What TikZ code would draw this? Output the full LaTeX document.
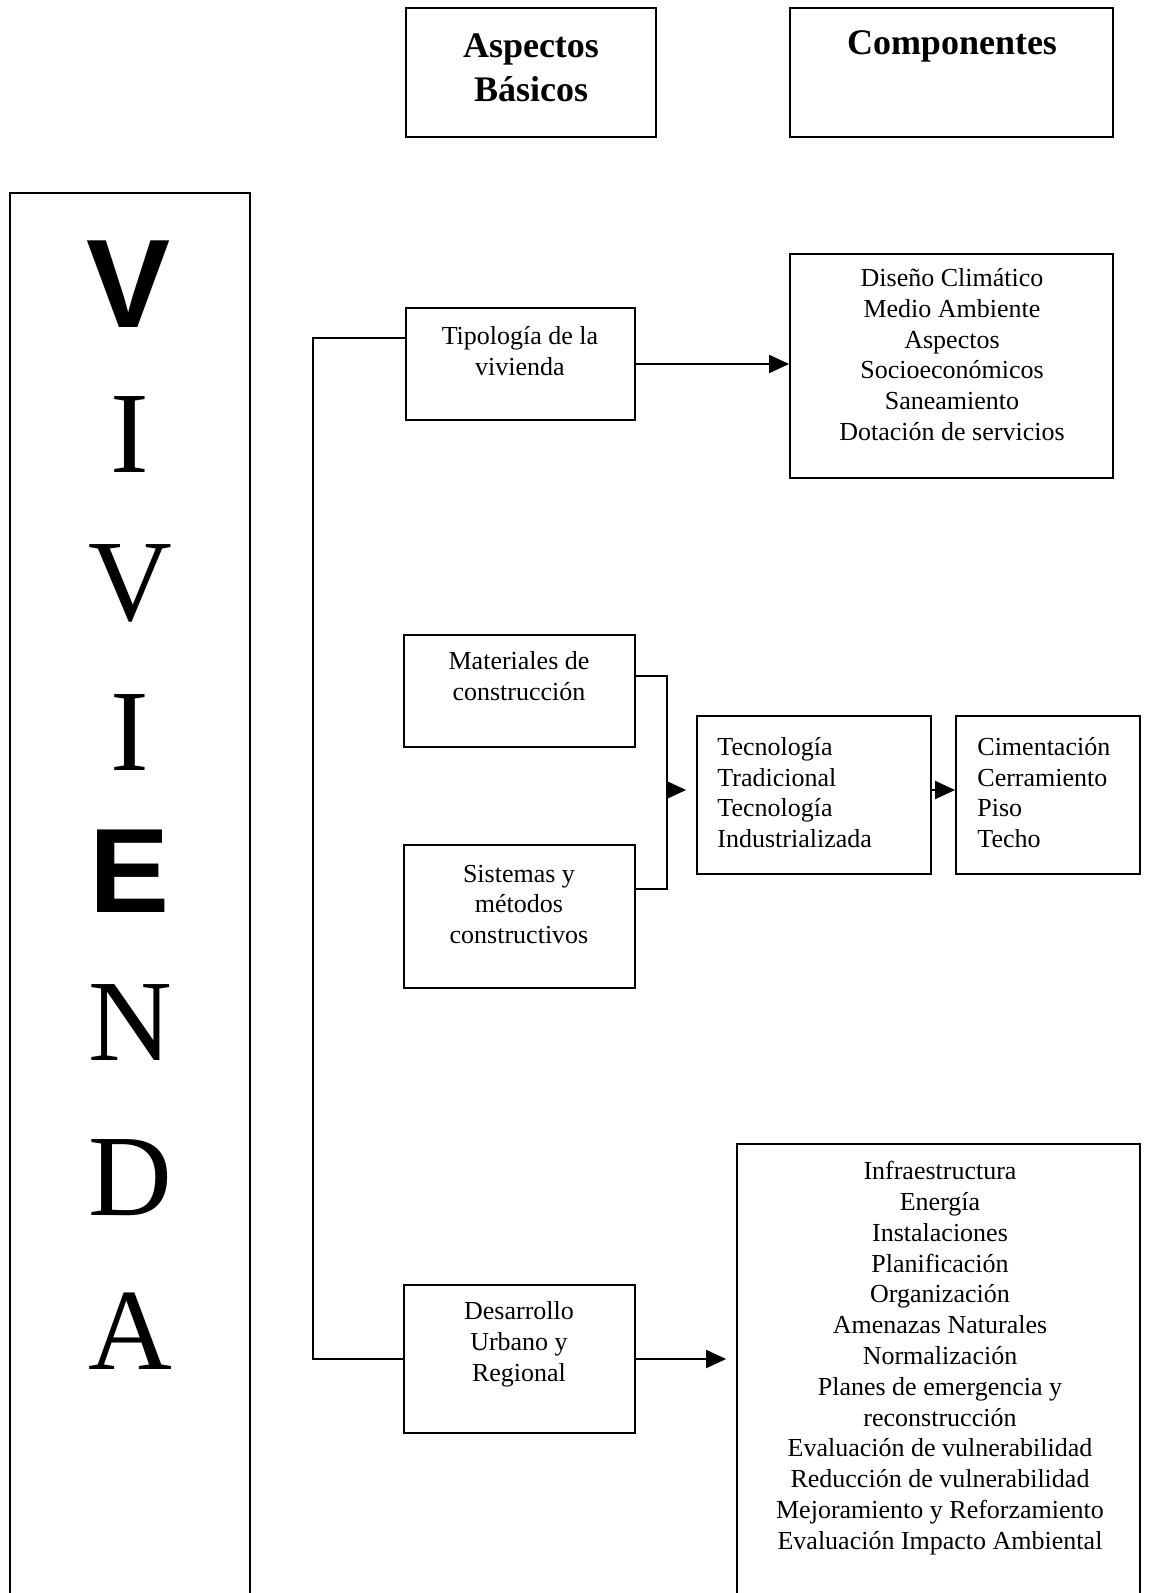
\documentclass[tikz,border=0pt]{standalone}
\usepackage{fontspec}
\setmainfont{Liberation Serif}
\newfontfamily\sansf{Liberation Sans}
\usetikzlibrary{arrows.meta,fit}
\begin{document}
\begin{tikzpicture}[x=0.5pt,y=-0.5pt,
  box/.style={draw, line width=0.9pt, inner sep=0pt, rectangle},
  txt/.style={inner sep=0pt, align=center, font=\fontsize{13}{15.4}\selectfont},
  ltxt/.style={inner sep=0pt, align=left, font=\fontsize{13}{15.2}\selectfont},
  head/.style={inner sep=0pt, align=center, font=\fontsize{18}{22}\selectfont\bfseries},
  let/.style={inner sep=0pt, font=\fontsize{58}{64}\selectfont},
  slet/.style={inner sep=0pt, font=\sansf\fontsize{60}{66}\selectfont\bfseries},
  conn/.style={line width=0.9pt},
  arr/.style={line width=0.9pt, -{Triangle[length=10pt,width=9pt]}}]
\useasboundingbox (0,0) rectangle (1151,1593);
\clip (0,0) rectangle (1151,1593);

% headings
\node[box, fit={(406,8) (656,137)}] (asp) {};
\node[head] (aspT) at (531,67.5) {Aspectos\\Básicos};
\node[box, fit={(790,8) (1113,137)}] (comp) {};
\node[head, anchor=center] (compT) at (952,46) {Componentes};

% VIVIENDA column
\node[box, fit={(10,193) (250,1625)}] (viv) {};
\node[slet, font=\sansf\fontsize{63}{68}\selectfont\bfseries] (l1) at (129,284) {V};
\node[let]  (l2) at (130,435) {I};
\node[let]  (l3) at (130,583) {V};
\node[let]  (l4) at (130,733) {I};
\node[slet] (l5) at (130,871) {E};
\node[let]  (l6) at (130,1023) {N};
\node[let]  (l7) at (130,1178) {D};
\node[let]  (l8) at (130,1331) {A};

% Tipologia
\node[box, fit={(406,308) (635,420)}] (tip) {};
\node[txt] (tipT) at (520,351) {Tipología de la\\vivienda};
\node[box, fit={(790,254) (1113,478)}] (dis) {};
\node[txt] (disT) at (952,354.5) {Diseño Climático\\Medio Ambiente\\Aspectos\\Socioeconómicos\\Saneamiento\\Dotación de servicios};

% Materiales / Sistemas
\node[box, fit={(404,635) (635,747)}] (mat) {};
\node[txt] (matT) at (519,676.5) {Materiales de\\construcción};
\node[box, fit={(404,845) (635,988)}] (sis) {};
\node[txt] (sisT) at (519,904.5) {Sistemas y\\métodos\\constructivos};
\node[box, fit={(697,716) (931,874)}] (tec) {};
\node[ltxt, anchor=west] (tecT) at (717,792.5) {Tecnología\\Tradicional\\Tecnología\\Industrializada};
\node[box, fit={(956,716) (1140,874)}] (cim) {};
\node[ltxt, anchor=west] (cimT) at (977,792.5) {Cimentación\\Cerramiento\\Piso\\Techo};

% Desarrollo
\node[box, fit={(404,1285) (635,1433)}] (des) {};
\node[txt] (desT) at (519,1344) {Desarrollo\\Urbano y\\Regional};
\node[box, fit={(737,1144) (1140,1625)}] (inf) {};
\node[txt] (infT) at (940,1358) {Infraestructura\\Energía\\Instalaciones\\Planificación\\Organización\\Amenazas Naturales\\Normalización\\Planes de emergencia y\\reconstrucción\\Evaluación de vulnerabilidad\\Reducción de vulnerabilidad\\Mejoramiento y Reforzamiento\\Evaluación Impacto Ambiental};

% connectors
\coordinate (trunkTop) at (313,338);
\draw[conn] (tip.west |- trunkTop) -- (trunkTop) |- (des.west);
\draw[arr] (tip.east) -- (tip.east -| dis.west);

\coordinate (brkTop) at (667,676);
\coordinate (brkBot) at (667,889);
\coordinate (brk) at (667,790);
\draw[conn] (mat.east |- brkTop) -- (brkTop) -- (brkBot) -- (sis.east |- brkBot);
\draw[arr, shorten >=5pt] (brk) -- (tec.west |- brk);
\draw[arr] (tec.east |- brk) -- (cim.west |- brk);

\draw[arr, shorten >=5pt] (des.east) -- (des.east -| inf.west);
\end{tikzpicture}
\end{document}
